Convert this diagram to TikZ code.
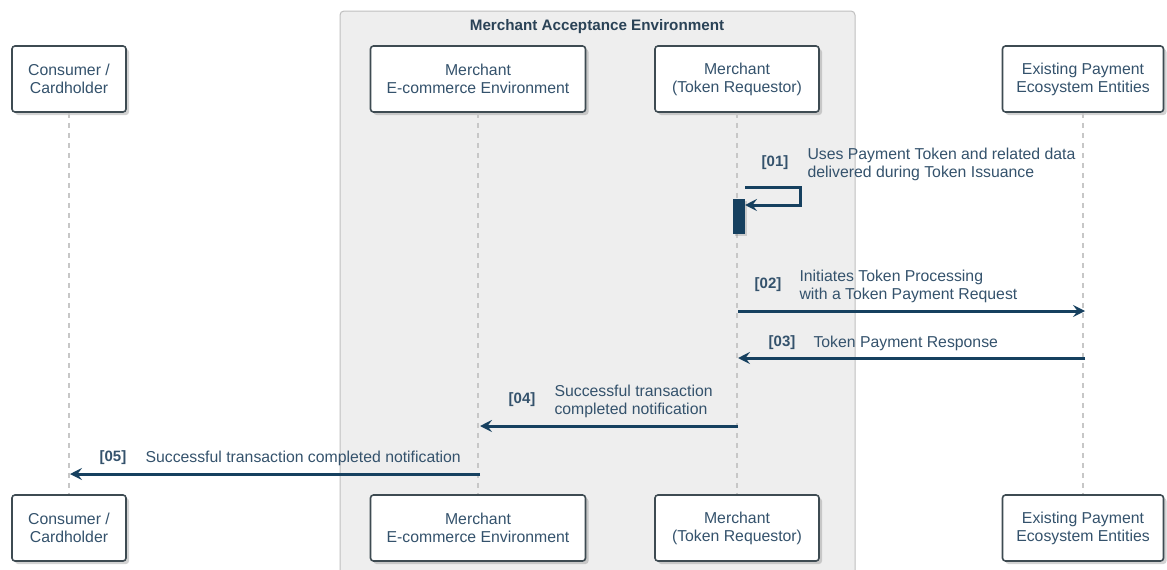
\documentclass[tikz,border=0pt]{standalone}
\usepackage{fontspec}
\setmainfont{Liberation Sans}
\usepackage{xcolor}
\usetikzlibrary{arrows.meta,shadows}

\definecolor{msgblue}{HTML}{16405F}
\definecolor{txtblue}{HTML}{34526C}
\definecolor{boxline}{HTML}{3E4B52}
\definecolor{grpfill}{HTML}{EEEEEE}

\tikzset{
  actor/.style={rectangle,rounded corners=3pt,draw=boxline,line width=1.6pt,fill=white,
    minimum height=66pt,align=center,text=txtblue,
    font=\fontsize{15.8}{18}\selectfont,
    drop shadow={opacity=0.35,shadow xshift=3pt,shadow yshift=-3pt}},
  lifeline/.style={draw=black!22,line width=2pt,dash pattern=on 5pt off 5pt},
  msg/.style={draw=msgblue,line width=3pt,-{Stealth[length=12pt,width=12pt,inset=4.5pt]}},
  msgtext/.style={anchor=west,align=left,text=txtblue,font=\fontsize{15.8}{18}\selectfont},
  msgnum/.style={text=txtblue,font=\fontsize{15}{18}\selectfont\bfseries}
}

\begin{document}
\begin{tikzpicture}[x=1pt,y=-1pt]
\useasboundingbox (0,0) rectangle (1167,570);

% merchant group
\path[fill=grpfill,draw=black!25,line width=1pt,rounded corners=4pt]
  (340,575) -- (340,11) -- (855,11) -- (855,575);
\node (grp) at (597,27) [text=txtblue!80!black,font=\fontsize{15.2}{18}\selectfont\bfseries] {Merchant Acceptance Environment};

% participants, top
\node (cons) at ( 69,79) [actor,minimum width=114pt] {Consumer /\\Cardholder};
\node (ecom) at (478,79) [actor,minimum width=215pt] {Merchant\\E-commerce Environment};
\node (treq) at (737,79) [actor,minimum width=164pt] {Merchant\\(Token Requestor)};
\node (eco)  at (1083,79) [actor,minimum width=161pt] {Existing Payment\\Ecosystem Entities};

% participants, bottom
\node (cons_b) at ( 69,528) [actor,minimum width=114pt] {Consumer /\\Cardholder};
\node (ecom_b) at (478,528) [actor,minimum width=215pt] {Merchant\\E-commerce Environment};
\node (treq_b) at (737,528) [actor,minimum width=164pt] {Merchant\\(Token Requestor)};
\node (eco_b)  at (1083,528) [actor,minimum width=161pt] {Existing Payment\\Ecosystem Entities};

% lifelines
\draw[lifeline] (cons.south) -- (cons_b.north);
\draw[lifeline] (ecom.south) -- (ecom_b.north);
\draw[lifeline] (treq.south) -- (treq_b.north);
\draw[lifeline] (eco.south) -- (eco_b.north);

% activation
\node (act) at (739,216.5) [rectangle,fill=msgblue,minimum width=12pt,minimum height=35pt,inner sep=0pt,
  drop shadow={opacity=0.3,shadow xshift=2pt,shadow yshift=-2pt}] {};

% message end points
\coordinate (s1) at (745,187);
\coordinate (s2) at (745,205);
\coordinate (m2a) at (738,311);
\coordinate (m2b) at (1085,311);
\coordinate (m3a) at (1085,358);
\coordinate (m3b) at (738,358);
\coordinate (m4a) at (738,426);
\coordinate (m4b) at (480,426);
\coordinate (m5a) at (480,474);
\coordinate (m5b) at (70,474);

% [01]
\draw[msg] (s1) -- ++(55,0) -- ++(0,18) -- (s2);
\node (n1) at (775,163) [msgnum] {[01]};
\node (t1) at (804,164) [msgtext] {Uses Payment Token and related data\\delivered during Token Issuance};

% [02]
\draw[msg] (m2a) -- (m2b);
\node (n2) at (768,285) [msgnum] {[02]};
\node (t2) at (796,286) [msgtext] {Initiates Token Processing\\with a Token Payment Request};

% [03]
\draw[msg] (m3a) -- (m3b);
\node (n3) at (782,343) [msgnum] {[03]};
\node (t3) at (810,343) [msgtext] {Token Payment Response};

% [04]
\draw[msg] (m4a) -- (m4b);
\node (n4) at (522,400) [msgnum] {[04]};
\node (t4) at (551,401) [msgtext] {Successful transaction\\completed notification};

% [05]
\draw[msg] (m5a) -- (m5b);
\node (n5) at (113,458) [msgnum] {[05]};
\node (t5) at (142,458) [msgtext] {Successful transaction completed notification};
\end{tikzpicture}
\end{document}
